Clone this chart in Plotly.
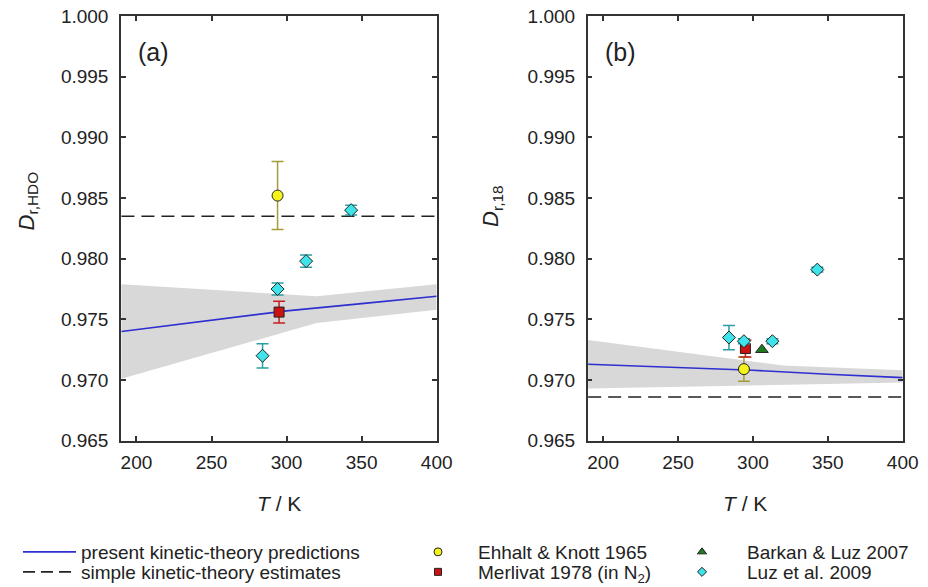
import plotly.graph_objects as go

# ---------------- data ----------------
T_band = [190, 320, 400]
a_band_upper = [0.9779, 0.9769, 0.9779]
a_band_lower = [0.9701, 0.9747, 0.9758]
b_band_upper = [0.9733, 0.9712, 0.9708]
b_band_lower = [0.9693, 0.9696, 0.9698]

T_line = [190, 250, 300, 350, 400]
a_present = [0.9740, 0.97495, 0.9757, 0.9763, 0.9769]
b_present = [0.9713, 0.97105, 0.9708, 0.97048, 0.9702]

T_simple = [190, 400]
a_simple = [0.9835, 0.9835]
b_simple = [0.9686, 0.9686]

ehhalt_T = [294]
ehhalt_a = [0.9852]
ehhalt_a_err = [0.0028]
ehhalt_b = [0.9709]
ehhalt_b_err = [0.0010]

merlivat_T = [295]
merlivat_a = [0.9756]
merlivat_a_err = [0.0009]
merlivat_b = [0.9726]
merlivat_b_err = [0.0007]

barkan_T = [306]
barkan_b = [0.9725]

luz_T = [284, 294, 313, 343]
luz_a = [0.9720, 0.9775, 0.9798, 0.9840]
luz_a_err = [0.0010, 0.0005, 0.0005, 0.0004]
luz_b = [0.9735, 0.9732, 0.9732, 0.9791]
luz_b_err = [0.0010, 0.0002, 0.0002, 0.0002]

y_ticks = [0.965, 0.970, 0.975, 0.980, 0.985, 0.990, 0.995, 1.000]
x_ticks = [200, 250, 300, 350, 400]

legend_names = ["present kinetic-theory predictions", "simple kinetic-theory estimates",
                "Ehhalt &amp; Knott 1965", "Merlivat 1978 (in N<sub>2</sub>)",
                "Barkan &amp; Luz 2007", "Luz et al. 2009"]

# ---------------- styles ----------------
W, H = 928, 587
FONT = "Liberation Sans, Arial, sans-serif"
BAND = "rgb(216,216,216)"
BLUE = "#2f2fd0"
YELLOW = "#f4f41c"
RED = "#cc1111"
GREEN = "#1e7b1e"
CYAN = "#3fe3ea"
AX = "#333333"
DASH = "13px,7px"

fig = go.Figure()

def add_panel(xa, ya, upper, lower, present, simple, eh, eh_err, me, me_err):
    fig.add_trace(go.Scatter(x=T_band, y=lower, mode="lines", line=dict(width=0, color=BAND),
                             showlegend=False, hoverinfo="skip", xaxis=xa, yaxis=ya))
    fig.add_trace(go.Scatter(x=T_band, y=upper, mode="lines", line=dict(width=0, color=BAND),
                             fill="tonexty", fillcolor=BAND,
                             showlegend=False, hoverinfo="skip", xaxis=xa, yaxis=ya))
    fig.add_trace(go.Scatter(x=T_line, y=present, mode="lines", line=dict(color=BLUE, width=1.6),
                             showlegend=False, xaxis=xa, yaxis=ya))
    fig.add_trace(go.Scatter(x=T_simple, y=simple, mode="lines",
                             line=dict(color="#222222", width=1.6, dash=DASH),
                             showlegend=False, xaxis=xa, yaxis=ya))
    fig.add_trace(go.Scatter(x=ehhalt_T, y=eh, mode="markers",
                             error_y=dict(type="data", array=eh_err, color="#a39c3a", thickness=1.5, width=6),
                             marker=dict(symbol="circle", size=11, color=YELLOW, line=dict(color="#222", width=1)),
                             showlegend=False, xaxis=xa, yaxis=ya))
    fig.add_trace(go.Scatter(x=merlivat_T, y=me, mode="markers",
                             error_y=dict(type="data", array=me_err, color="#c42020", thickness=1.5, width=6),
                             marker=dict(symbol="square", size=10, color=RED, line=dict(color="#222", width=1)),
                             showlegend=False, xaxis=xa, yaxis=ya))

add_panel("x", "y", a_band_upper, a_band_lower, a_present, a_simple,
          ehhalt_a, ehhalt_a_err, merlivat_a, merlivat_a_err)
add_panel("x2", "y2", b_band_upper, b_band_lower, b_present, b_simple,
          ehhalt_b, ehhalt_b_err, merlivat_b, merlivat_b_err)

fig.add_trace(go.Scatter(x=barkan_T, y=barkan_b, mode="markers",
                         marker=dict(symbol="triangle-up", size=11, color=GREEN, line=dict(color="#222", width=1)),
                         showlegend=False, xaxis="x2", yaxis="y2"))
for xa, ya, vals, errs in [("x", "y", luz_a, luz_a_err), ("x2", "y2", luz_b, luz_b_err)]:
    fig.add_trace(go.Scatter(x=luz_T, y=vals, mode="markers",
                             error_y=dict(type="data", array=errs, color="#2a9ea3", thickness=1.5, width=6),
                             marker=dict(symbol="diamond", size=10, color=CYAN, line=dict(color="#222", width=1)),
                             showlegend=False, xaxis=xa, yaxis=ya))

# legend-only entries (smaller symbols, as in the reference key)
legend_styles = [
    dict(mode="lines", line=dict(color=BLUE, width=1.6)),
    dict(mode="lines", line=dict(color="#222222", width=1.6, dash="12px,6px")),
    dict(mode="markers", marker=dict(symbol="circle", size=8, color=YELLOW, line=dict(color="#222", width=1))),
    dict(mode="markers", marker=dict(symbol="square", size=7, color=RED, line=dict(color="#222", width=1))),
    dict(mode="markers", marker=dict(symbol="triangle-up", size=8, color=GREEN, line=dict(color="#222", width=1))),
    dict(mode="markers", marker=dict(symbol="diamond", size=7, color=CYAN, line=dict(color="#222", width=1))),
]
legend_ids = ["legend", "legend2", "legend3", "legend4", "legend5", "legend6"]
for name, st, lid in zip(legend_names, legend_styles, legend_ids):
    fig.add_trace(go.Scatter(x=[None], y=[None], name=name, legend=lid, showlegend=True,
                             xaxis="x", yaxis="y", **st))

axis_common = dict(showline=True, linecolor=AX, linewidth=1.5, mirror="ticks", ticks="inside",
                   ticklen=5, tickwidth=1.5, tickcolor=AX, showgrid=False, zeroline=False,
                   tickfont=dict(family=FONT, size=19, color="#222"))
xcommon = dict(axis_common, range=[189.7, 400], tickvals=x_ticks, ticklabelstandoff=4)
ycommon = dict(axis_common, range=[0.965, 1.000], tickvals=y_ticks, tickformat=".3f",
               ticklabelstandoff=7)

ydom = [1 - 440.7 / H, 1 - 16 / H]
row1, row2 = 1 - 552 / H, 1 - 572 / H
leg_font = dict(family=FONT, size=19, color="#222")
def leg(x, y, iw):
    return dict(x=x / W, y=y, xanchor="left", yanchor="middle", orientation="v",
                itemwidth=iw, font=leg_font, bgcolor="rgba(0,0,0,0)", borderwidth=0)

fig.update_layout(
    width=W, height=H,
    margin=dict(l=0, r=0, t=0, b=0, autoexpand=False),
    paper_bgcolor="white", plot_bgcolor="white",
    font=dict(family=FONT, size=19, color="#222"),
    xaxis=dict(xcommon, domain=[121 / W, 436.7 / W], anchor="y"),
    yaxis=dict(ycommon, domain=ydom, anchor="x"),
    xaxis2=dict(xcommon, domain=[587.7 / W, 902.7 / W], anchor="y2"),
    yaxis2=dict(ycommon, domain=ydom, anchor="x2"),
    legend=leg(18, row1, 53),
    legend2=leg(18, row2, 53),
    legend3=leg(398, row1, 70),
    legend4=leg(398, row2, 70),
    legend5=leg(657, row1, 80),
    legend6=leg(657, row2, 80),
    showlegend=True,
)

ann = [
    ("(a)", 153, 52, 0, 25),
    ("(b)", 620, 52, 0, 25),
    ("<i>D</i><sub>r,HDO</sub>", 27.5, 201, -90, 22),
    ("<i>D</i><sub>r,18</sub>", 492, 206, -90, 22),
    ("<i>T</i> / K", 279, 503, 0, 21),
    ("<i>T</i> / K", 745, 503, 0, 21),
]
for text, px, py, ang, size in ann:
    fig.add_annotation(text=text, xref="paper", yref="paper", x=px / W, y=1 - py / H,
                       xanchor="center", yanchor="middle", textangle=ang, showarrow=False,
                       font=dict(family=FONT, color="#222", size=size))

# remove the browser's default 8px page margin so the figure sits at the window origin
fig.write_html("out.html", config={"displayModeBar": False},
               post_script="document.body.style.margin='0';")
